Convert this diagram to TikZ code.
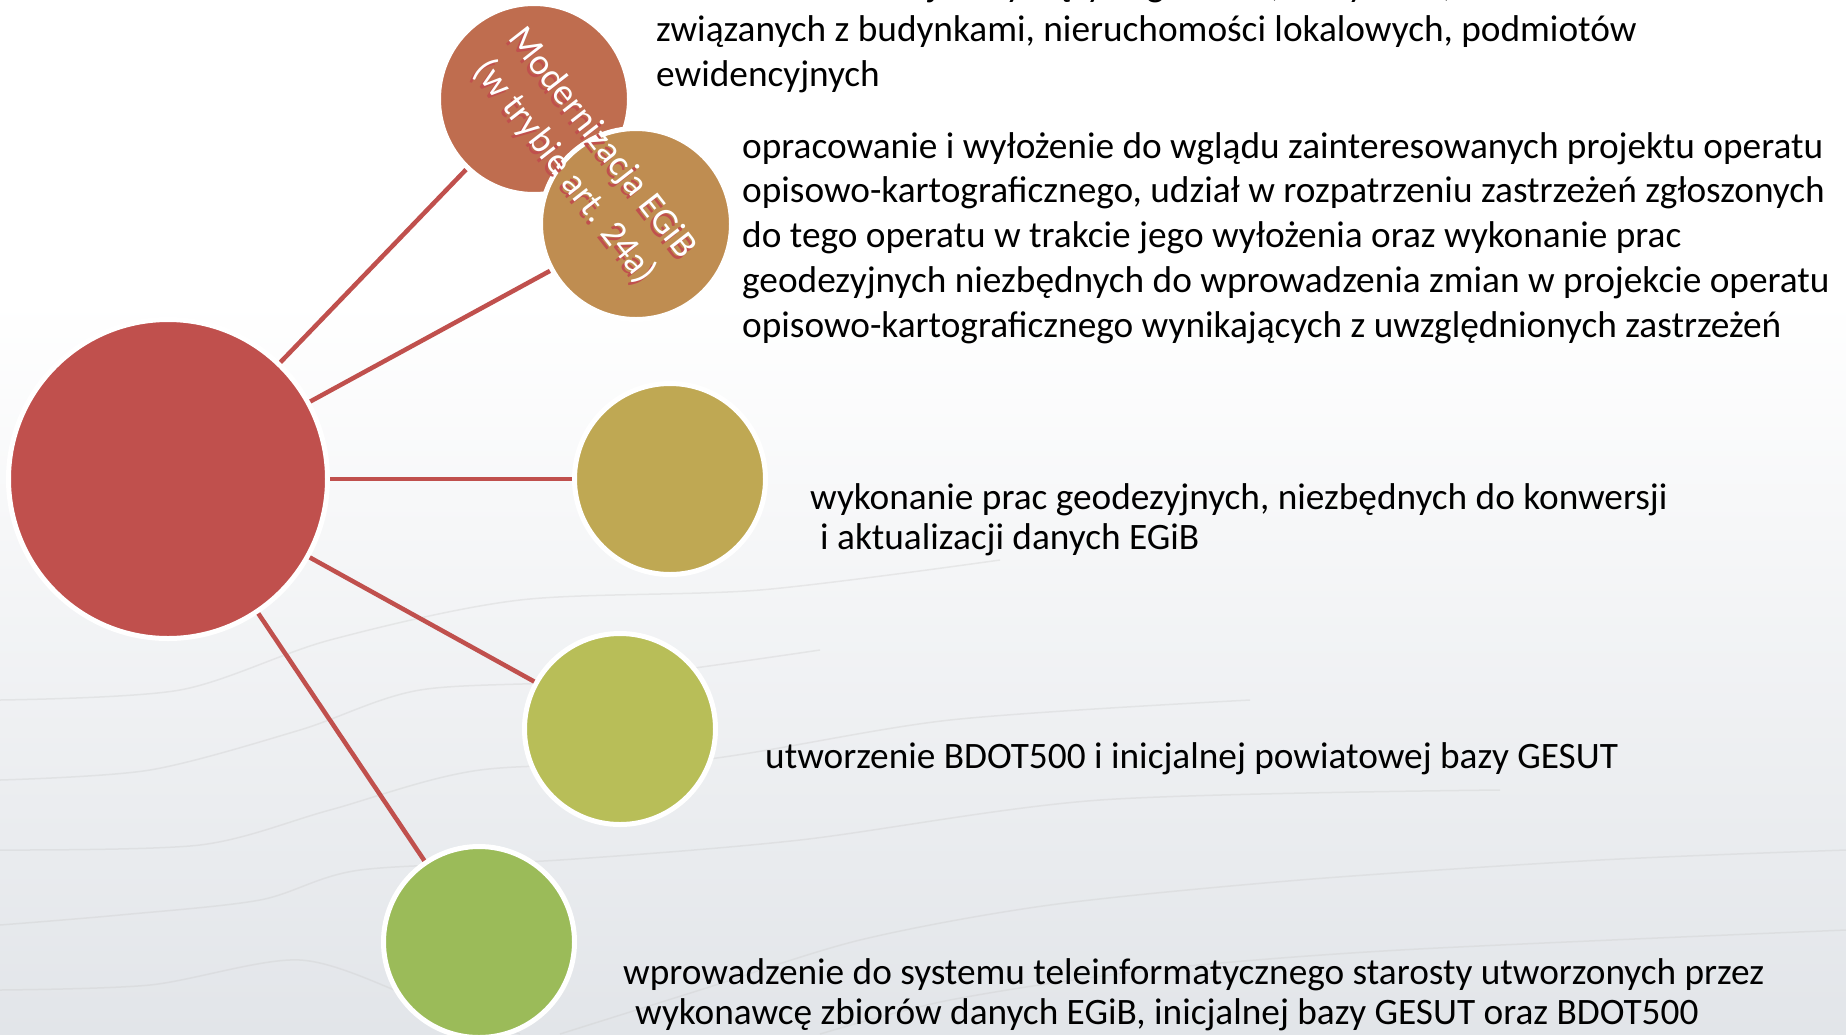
\documentclass[tikz,border=0pt]{standalone}
\usepackage{fontspec}
\setmainfont{Carlito}
\usetikzlibrary{calc}

\definecolor{hubred}{HTML}{C0504D}
\definecolor{rustc}{HTML}{BF6D4F}
\definecolor{ochrec}{HTML}{BF8D51}
\definecolor{goldc}{HTML}{BFA853}
\definecolor{olivec}{HTML}{B8BE58}
\definecolor{greenc}{HTML}{9BBB59}
\definecolor{bggrey}{RGB}{226,229,233}

\tikzset{
  blob/.style={circle, draw=white, line width=5pt, minimum size=191pt, inner sep=0pt},
  hubblob/.style={blob, fill=hubred, minimum size=319pt},
  link/.style={draw=hubred, line width=4.5pt},
  contour/.style={draw=gray!40, line width=1.5pt, opacity=.35},
  desc/.style={anchor=base west, inner sep=0pt, align=left, text=black},
  modlbl/.style={rotate=-52, inner sep=0pt, align=center,
    font=\fontsize{37}{47}\selectfont},
}

\begin{document}
\begin{tikzpicture}[x=1pt,y=-1pt]
    \useasboundingbox (0,0) rectangle (1846,1034);
    \clip (0,0) rectangle (1846,1034);

    % background
    \fill[white] (0,0) rectangle (1846,300);
    \shade[top color=white, bottom color=bggrey] (0,300) rectangle (1846,1034);
    \draw[contour] plot[smooth] coordinates {(0,700) (180,690) (330,640) (520,600) (760,590) (1000,560)};
    \draw[contour] plot[smooth] coordinates {(0,780) (150,770) (300,730) (420,690) (600,680) (820,650)};
    \draw[contour] plot[smooth] coordinates {(0,850) (200,845) (330,810) (480,770) (700,760) (950,720) (1250,700)};
    \draw[contour] plot[smooth] coordinates {(0,925) (120,915) (260,900) (360,870) (560,860) (800,840) (1100,800) (1500,790)};
    \draw[contour] plot[smooth] coordinates {(560,1034) (700,990) (860,940) (1050,905) (1300,880) (1600,860) (1846,850)};
    \draw[contour] plot[smooth] coordinates {(820,1034) (950,1000) (1150,970) (1400,950) (1846,930)};
    \draw[contour] plot[smooth] coordinates {(0,990) (150,985) (300,960) (420,1000) (520,1034)};

    % circles
    \node[hubblob] (hub) at (168,479) {};
    \node[blob, fill=rustc] (modern) at (534,99) {};
    \node[blob, fill=ochrec] (wyloz) at (636,224) {};
    \node[blob, fill=goldc] (konw) at (670,479) {};
    \node[blob, fill=olivec] (bdot) at (620,729) {};
    \node[blob, fill=greenc] (wprow) at (479,942) {};

    \foreach \c in {modern,wyloz,konw,bdot,wprow}
        {\draw[link] (hub) -- (\c);}

    % rotated label with red shadow
    \coordinate (lblc) at ($(modern)!.5!(wyloz)+(-2,-4)$);
    \node[modlbl, text=hubred] (modshadow) at ($(lblc)+(-3,3)$) {Modernizacja EGiB\\(w trybie art. 24a)};
    \node[modlbl, text=white] (modtxt) at (lblc) {Modernizacja EGiB\\(w trybie art. 24a)};

    % descriptions (anchored at the baseline of the last line)
    \node[desc, font=\fontsize{37.3}{45}\selectfont] (txtmod) at (656,86)
        {zebranie informacji dotyczących gruntów, budynków, obiektów\\
         związanych z budynkami, nieruchomości lokalowych, podmiotów\\
         ewidencyjnych};
    \node[desc, font=\fontsize{37.3}{44.7}\selectfont] (txtwyl) at (742,337)
        {opracowanie i wyłożenie do wglądu zainteresowanych projektu operatu\\
         opisowo-kartograficznego, udział w rozpatrzeniu zastrzeżeń zgłoszonych\\
         do tego operatu w trakcie jego wyłożenia oraz wykonanie prac\\
         geodezyjnych niezbędnych do wprowadzenia zmian w projekcie operatu\\
         opisowo-kartograficznego wynikających z uwzględnionych zastrzeżeń};
    \node[desc, font=\fontsize{37.3}{40}\selectfont] (txtkonw) at (810,549)
        {wykonanie prac geodezyjnych, niezbędnych do konwersji\\
         \hspace{10pt}i aktualizacji danych EGiB};
    \node[desc, font=\fontsize{37.3}{40}\selectfont] (txtbdot) at (765,768)
        {utworzenie BDOT500 i inicjalnej powiatowej bazy GESUT};
    \node[desc, font=\fontsize{37.3}{40}\selectfont] (txtwpr) at (623,1024)
        {wprowadzenie do systemu teleinformatycznego starosty utworzonych przez\\
         \hspace{12pt}wykonawcę zbiorów danych EGiB, inicjalnej bazy GESUT oraz BDOT500};
\end{tikzpicture}
\end{document}
